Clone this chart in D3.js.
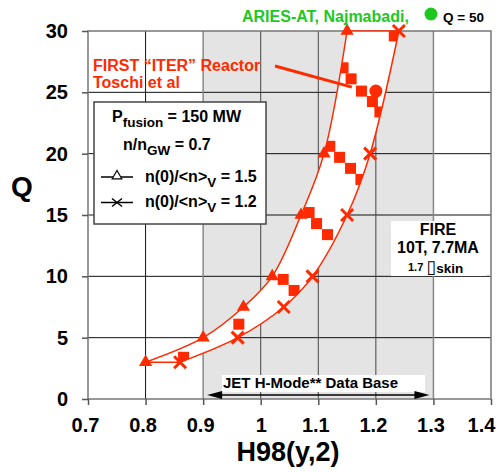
<!DOCTYPE html>
<html>
<head>
<meta charset="utf-8">
<script src="https://cdn.jsdelivr.net/npm/d3@7"></script>
<style>
  body { margin: 0; background: #fff; }
  text { font-family: "Liberation Sans", Arial, Helvetica, sans-serif; font-weight: bold; }
</style>
</head>
<body>
<svg id="chart" width="498" height="472"></svg>
<script>
// n(0)/<n>V = 1.5  (triangles)
const h98_15 = [0.80, 0.90, 0.97, 1.02, 1.07, 1.11, 1.15];
const q_15   = [3, 5, 7.5, 10, 15, 20, 30];
// n(0)/<n>V = 1.2  (crosses)
const h98_12 = [0.86, 0.96, 1.04, 1.09, 1.15, 1.19, 1.24];
const q_12   = [3, 5, 7.5, 10, 15, 20, 30];
// JET H-mode points (squares)
const jetH = [0.866, 0.962, 1.039, 1.058, 1.084, 1.097, 1.116, 1.120, 1.137, 1.156, 1.174, 1.143, 1.157, 1.175, 1.194, 1.207, 1.232];
const jetQ = [3.4, 6.1, 9.75, 8.85, 15.2, 14.3, 13.4, 20.6, 19.7, 18.8, 17.9, 27.0, 26.1, 25.1, 24.25, 23.4, 29.6];
// FIRST "ITER" reactor point
const iterH = 1.2, iterQ = 25.1;
const jetRange = [0.9, 1.3];
const xTicks = [0.7, 0.8, 0.9, 1.0, 1.1, 1.2, 1.3, 1.4];
const yTicks = [0, 5, 10, 15, 20, 25, 30];

const red = "#ff2a00", green = "#1ec81e";

const svg = d3.select("#chart");
svg.append("rect").attr("width", 498).attr("height", 472).attr("fill", "#fff");

const x = d3.scaleLinear().domain([0.7, 1.4]).range([88, 491]);
const y = d3.scaleLinear().domain([0, 30]).range([399, 31]);

// shaded JET range
svg.append("rect")
    .attr("x", x(jetRange[0])).attr("y", y(30))
    .attr("width", x(jetRange[1]) - x(jetRange[0]))
    .attr("height", y(0) - y(30))
    .attr("fill", "#e4e4e4");

// grid
const grid = svg.append("g");
grid.selectAll(".hg").data(yTicks.filter(d => d > 0 && d < 30)).enter().append("line")
    .attr("x1", x(0.7)).attr("x2", x(1.4))
    .attr("y1", d => y(d)).attr("y2", d => y(d))
    .attr("stroke", "#111").attr("stroke-width", 1);
grid.selectAll(".vg").data(xTicks.filter(d => d > 0.7 && d < 1.4)).enter().append("line")
    .attr("x1", d => x(d)).attr("x2", d => x(d))
    .attr("y1", y(0)).attr("y2", y(30))
    .attr("stroke", d => (d === 0.9 || d === 1.3) ? "#888" : (d === 0.8 ? "#111" : "#444"))
    .attr("stroke-width", d => (d === 0.9 || d === 1.3) ? 1.5 : 1);

// frame
const frame = svg.append("g").attr("stroke", "#777").attr("stroke-width", 1.5).attr("fill", "none");
frame.append("rect").attr("x", x(0.7)).attr("y", y(30))
    .attr("width", x(1.4) - x(0.7)).attr("height", y(0) - y(30));

// axes
const xAxis = svg.append("g").attr("transform", `translate(0,${y(0)})`)
    .call(d3.axisBottom(x).tickValues(xTicks).tickSize(6).tickPadding(13)
        .tickFormat(d => d === 1 ? "1" : d3.format(".1f")(d)));
xAxis.select(".domain").remove();
xAxis.selectAll("line").attr("stroke", "#555").attr("stroke-width", 1.5);
xAxis.selectAll("text").attr("font-size", 20).attr("fill", "#000")
    .attr("font-family", null).attr("dx", d => d === 1 ? 0 : (d === 1.4 ? -10 : -3));

const yAxis = svg.append("g").attr("transform", `translate(${x(0.7)},0)`)
    .call(d3.axisLeft(y).tickValues(yTicks).tickSize(6).tickPadding(14));
yAxis.select(".domain").remove();
yAxis.selectAll("line").attr("stroke", "#555").attr("stroke-width", 1.5);
yAxis.selectAll("text").attr("font-size", 20).attr("fill", "#000").attr("font-family", null);

// band between the two curves
const pts15 = h98_15.map((h, i) => [x(h), y(q_15[i])]);
const pts12 = h98_12.map((h, i) => [x(h), y(q_12[i])]);
const smooth = d3.line().curve(d3.curveCatmullRom.alpha(0.5));
const bandPath = smooth(pts15) + "L" + smooth(pts12.slice().reverse()).slice(1) + "Z";

svg.append("clipPath").attr("id", "bandClip").append("path").attr("d", bandPath);
svg.append("path").attr("d", bandPath).attr("fill", "#fff");

// JET squares, only inside band
svg.append("g").attr("clip-path", "url(#bandClip)")
  .selectAll("rect").data(jetH).enter().append("rect")
    .attr("x", (d, i) => x(d) - 5.5).attr("y", (d, i) => y(jetQ[i]) - 5.5)
    .attr("width", 11).attr("height", 11).attr("fill", red);

// curves
svg.append("path").attr("d", smooth(pts15)).attr("fill", "none").attr("stroke", red).attr("stroke-width", 1.5);
svg.append("path").attr("d", smooth(pts12)).attr("fill", "none").attr("stroke", red).attr("stroke-width", 1.5);
svg.append("line").attr("x1", pts15[0][0]).attr("y1", pts15[0][1]).attr("x2", pts12[0][0]).attr("y2", pts12[0][1])
    .attr("stroke", red).attr("stroke-width", 1.5);
svg.append("line").attr("x1", pts15[6][0]).attr("y1", pts15[6][1]).attr("x2", pts12[6][0]).attr("y2", pts12[6][1])
    .attr("stroke", red).attr("stroke-width", 1.5);

// markers
svg.selectAll(".tri").data(pts15).enter().append("path")
    .attr("d", d3.symbol(d3.symbolTriangle, 75))
    .attr("transform", d => `translate(${d[0]},${d[1]})`)
    .attr("fill", red);
svg.selectAll(".crs").data(pts12).enter().append("path")
    .attr("d", "M-6,-6L6,6M-6,6L6,-6")
    .attr("transform", d => `translate(${d[0]},${d[1]})`)
    .attr("stroke", red).attr("stroke-width", 3).attr("fill", "none");

// ITER point + annotation
svg.append("line").attr("x1", 275).attr("y1", 66).attr("x2", x(iterH) - 24).attr("y2", y(iterQ) - 4)
    .attr("stroke", red).attr("stroke-width", 3);
svg.append("circle").attr("cx", x(iterH)).attr("cy", y(iterQ)).attr("r", 6.5).attr("fill", red);
svg.append("text").attr("x", 93).attr("y", 71).attr("font-size", 16).attr("fill", red).text("FIRST \u201CITER\u201D Reactor");
svg.append("text").attr("x", 93).attr("y", 88).attr("font-size", 16).attr("fill", red).text("Toschi et al");

// ARIES-AT annotation
svg.append("text").attr("x", 242).attr("y", 22).attr("font-size", 16).attr("fill", green).text("ARIES-AT, Najmabadi,");
svg.append("circle").attr("cx", 431).attr("cy", 14).attr("r", 6.5).attr("fill", green);
svg.append("text").attr("x", 443).attr("y", 22).attr("font-size", 13.5).attr("fill", "#000").text("Q = 50");

// legend
const lg = svg.append("g");
lg.append("rect").attr("x", 94).attr("y", 102).attr("width", 172).attr("height", 122)
    .attr("fill", "#fff").attr("stroke", "#444").attr("stroke-width", 1.5);
const t1 = lg.append("text").attr("x", 112).attr("y", 121.5).attr("font-size", 16);
t1.append("tspan").text("P");
t1.append("tspan").attr("font-size", 13.5).attr("dy", 5).text("fusion");
t1.append("tspan").attr("dy", -5).text(" = 150 MW");
const t2 = lg.append("text").attr("x", 123).attr("y", 150).attr("font-size", 16);
t2.append("tspan").text("n/n");
t2.append("tspan").attr("font-size", 13.5).attr("dy", 5).text("GW");
t2.append("tspan").attr("dy", -5).text(" = 0.7");
[[181.5, "1.5", "tri"], [207, "1.2", "crs"]].forEach(([ty, v, m]) => {
  const ly = ty - 4.5;
  lg.append("line").attr("x1", 101).attr("x2", 133).attr("y1", ly).attr("y2", ly)
      .attr("stroke", "#000").attr("stroke-width", 1.5);
  if (m === "tri") {
    lg.append("path").attr("d", d3.symbol(d3.symbolTriangle, 40))
        .attr("transform", `translate(117,${ly - 1})`)
        .attr("fill", "#fff").attr("stroke", "#000").attr("stroke-width", 1.2);
  } else {
    lg.append("path").attr("d", "M-5,-4L5,4M-5,4L5,-4")
        .attr("transform", `translate(117,${ly})`)
        .attr("stroke", "#000").attr("stroke-width", 1.5);
  }
  const t = lg.append("text").attr("x", 145).attr("y", ty).attr("font-size", 16);
  t.append("tspan").text("n(0)/<n>");
  t.append("tspan").attr("font-size", 13.5).attr("dy", 5).text("V");
  t.append("tspan").attr("dy", -5).text(" = " + v);
});

// FIRE box
const fb = svg.append("g");
fb.append("rect").attr("x", 391).attr("y", 221).attr("width", 95).attr("height", 55).attr("fill", "#fff");
fb.append("text").attr("x", 438).attr("y", 235).attr("font-size", 16).attr("text-anchor", "middle").text("FIRE");
fb.append("text").attr("x", 438).attr("y", 253).attr("font-size", 16).attr("text-anchor", "middle").text("10T, 7.7MA");
const t3 = fb.append("text").attr("x", 408).attr("y", 271).attr("font-size", 11);
t3.append("tspan").text("1.7 ");
t3.append("tspan").attr("font-family", "DejaVu Sans").attr("font-weight", "normal").attr("font-size", 18).attr("dy", 2).text("\u25AF");
t3.append("tspan").attr("font-size", 13.5).attr("dy", 0).text("skin");

// JET data base arrow
const jb = svg.append("g");
jb.append("rect").attr("x", 222).attr("y", 375).attr("width", 203).attr("height", 17).attr("fill", "#fff");
jb.append("text").attr("x", 223).attr("y", 388).attr("font-size", 15).text("JET H-Mode** Data Base");
const ax0 = x(jetRange[0]) + 4, ax1 = x(jetRange[1]) - 4, ay = 395;
jb.append("line").attr("x1", ax0 + 10).attr("x2", ax1 - 10).attr("y1", ay).attr("y2", ay)
    .attr("stroke", "#000").attr("stroke-width", 1.5);
jb.append("path").attr("d", `M${ax0},${ay}L${ax0 + 15},${ay - 4}L${ax0 + 15},${ay + 4}Z`).attr("fill", "#000");
jb.append("path").attr("d", `M${ax1},${ay}L${ax1 - 15},${ay - 4}L${ax1 - 15},${ay + 4}Z`).attr("fill", "#000");

// axis titles
svg.append("text").attr("x", 288).attr("y", 461).attr("font-size", 27).attr("text-anchor", "middle").text("H98(y,2)");
svg.append("text").attr("x", 22).attr("y", 196).attr("font-size", 28).attr("text-anchor", "middle").text("Q");
</script>
</body>
</html>
